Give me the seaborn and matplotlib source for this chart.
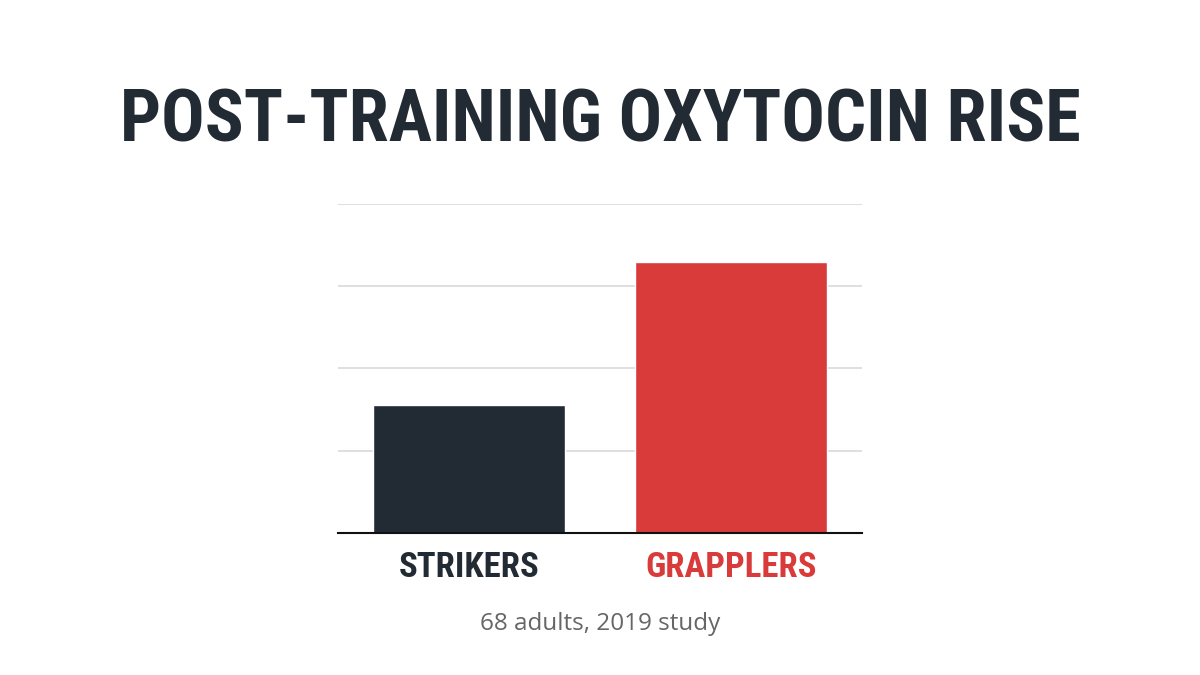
import matplotlib
matplotlib.use("Agg")
import matplotlib.pyplot as plt
import seaborn as sns
import pandas as pd
from matplotlib import font_manager

# data
groups = ["STRIKERS", "GRAPPLERS"]
rise = [15.5, 33.0]
grid_ticks = [0, 10, 20, 30, 40]
bar_colors = ["#222b34", "#d93a3a"]

sns.set_theme(style="white")

names = {f.name for f in font_manager.fontManager.ttflist}
cond = "DejaVu Sans"
for cand in ["Roboto Condensed", "Liberation Sans Narrow", "DejaVu Sans Condensed"]:
    if cand in names:
        cond = cand
        break

df = pd.DataFrame({"group": groups, "rise": rise})

fig = plt.figure(figsize=(12, 6.75), dpi=100)
ax = fig.add_axes([0.2817, 0.2104, 0.4367, 0.4874])
sns.barplot(data=df, x="group", y="rise", hue="group", palette=bar_colors,
            width=0.73, legend=False, ax=ax, saturation=1)

ax.set_ylim(0, 40)
ax.set_xlim(-0.5, 1.5)
ax.set_yticks(grid_ticks)
ax.yaxis.grid(True, color="#d9d9d9", linewidth=1.2)
ax.set_axisbelow(True)
for s in ["top", "left", "right"]:
    ax.spines[s].set_visible(False)
ax.spines["bottom"].set_color("#111111")
ax.spines["bottom"].set_linewidth(1.5)
ax.tick_params(axis="y", left=False, labelleft=False)
ax.tick_params(axis="x", bottom=False, pad=7)
ax.set_xlabel("")
ax.set_ylabel("")

for lbl, c in zip(ax.get_xticklabels(), bar_colors):
    lbl.set_color(c)
    lbl.set_fontfamily(cond)
    lbl.set_fontweight("bold")
    lbl.set_fontsize(25)

fig.text(0.5, 0.82, "POST-TRAINING OXYTOCIN RISE", ha="center", va="center",
         fontsize=52, fontweight="bold", color="#222b34", family=cond)
fig.text(0.5, 0.075, "68 adults, 2019 study", ha="center", va="center",
         fontsize=17.5, color="#666666", family="Open Sans")

fig.savefig("out.png", dpi=100, facecolor="white")
